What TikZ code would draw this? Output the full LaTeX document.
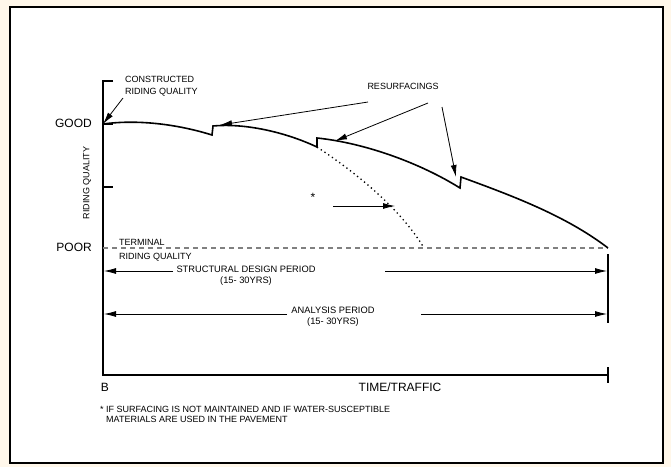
\documentclass[tikz,border=0pt]{standalone}
\usepackage{fontspec}
\setmainfont{Liberation Sans}
\usetikzlibrary{arrows.meta}

\definecolor{cream}{RGB}{255,247,234}

\tikzset{
  lbl/.style={font=\fontsize{9}{11}\selectfont, inner sep=0pt},
  biglbl/.style={font=\fontsize{12}{13}\selectfont, inner sep=0pt},
  pointer/.style={-{Latex[length=12pt,width=6pt]}, line width=0.8pt},
  quality/.style={line width=1.6pt, line join=miter},
}

\begin{document}
\begin{tikzpicture}[x=1pt,y=-1pt]
    \useasboundingbox (0,0) rectangle (671,467);
    \fill[cream] (0,0) rectangle (671,467);
    \draw[fill=white, line width=1.8pt] (10,7) rectangle (663,463);

    % axes
    \coordinate (top) at (103,81);
    \coordinate (origin) at (103,375);
    \coordinate (xend) at (608,375);
    \draw[line width=1.4pt] (113,81) -- (top) -- (origin) -- (xend);
    \draw[line width=1.4pt] (608,367) -- (608,383);
    \draw[line width=1.2pt] (103,187) -- (113,187);
    \draw[line width=1.2pt] (103,124) -- (113,124);

    % labels on the axes
    \node[biglbl, anchor=east] (good) at (92,123) {GOOD};
    \node[biglbl, anchor=east] (poor) at (92,247) {POOR};
    \node[lbl, rotate=90] (rq) at (87,183) {RIDING QUALITY};
    \node[biglbl] (b) at (105,387) {B};
    \node[biglbl] (time) at (400,387) {TIME/TRAFFIC};

    % terminal riding quality
    \coordinate (term) at (608,248);
    \draw[gray, line width=1.2pt, dash pattern=on 5pt off 4pt] (103,248) -- (term);
    \node[lbl, anchor=west, align=left, font=\fontsize{9}{14}\selectfont] (terminal) at (119,250) {TERMINAL\\RIDING QUALITY};

    % riding quality curve with resurfacings
    \coordinate (c0) at (103,124);
    \coordinate (r1) at (213,126);
    \coordinate (r2) at (317,138);
    \coordinate (r3) at (461,177);
    \draw[quality] (c0) .. controls (140,119) and (180,125) .. (212,135) -- (r1)
        .. controls (245,123) and (285,132) .. (317,147) -- (r2)
        .. controls (365,143) and (420,163) .. (460,188) -- (r3)
        .. controls (510,195) and (565,215) .. (term);
    \draw[line width=1.3pt, dash pattern=on 1.3pt off 3.2pt] (317,147) .. controls (355,172) and (400,208) .. (424,248);

    % constructed riding quality
    \node[lbl, anchor=west, align=left, font=\fontsize{9}{12}\selectfont] (built) at (125,86) {CONSTRUCTED\\RIDING QUALITY};
    \draw[pointer] (123,98) -- (c0);

    % resurfacings
    \node[lbl] (resurf) at (403,86) {RESURFACINGS};
    \draw[pointer] (368,102) -- (220,125);
    \draw[pointer] (428,103) -- (335,141);
    \draw[pointer] (442,107) -- (456,177);

    % not maintained
    \node[biglbl] (star) at (313,197) {*};
    \draw[pointer] (333,206) -- (395,206);

    % periods
    \draw[line width=1.4pt] (608,254) -- (608,323);
    \node[lbl, align=center, font=\fontsize{9.3}{11}\selectfont] (sdp) at (246,275.5) {STRUCTURAL DESIGN PERIOD\\(15- 30YRS)};
    \draw[pointer] (173,271) -- (104,271);
    \draw[pointer] (385,271) -- (607,271);
    \node[lbl, align=center, font=\fontsize{9.3}{11}\selectfont] (ap) at (333,316.5) {ANALYSIS PERIOD\\(15- 30YRS)};
    \draw[pointer] (287,314) -- (104,314);
    \draw[pointer] (421,314) -- (607,314);

    % footnote
    \node[lbl, anchor=north west, align=left, font=\fontsize{9}{10}\selectfont] (note) at (100,406)
        {* IF SURFACING IS NOT MAINTAINED AND IF WATER-SUSCEPTIBLE\\\hspace*{6pt}MATERIALS ARE USED IN THE PAVEMENT};
\end{tikzpicture}
\end{document}
